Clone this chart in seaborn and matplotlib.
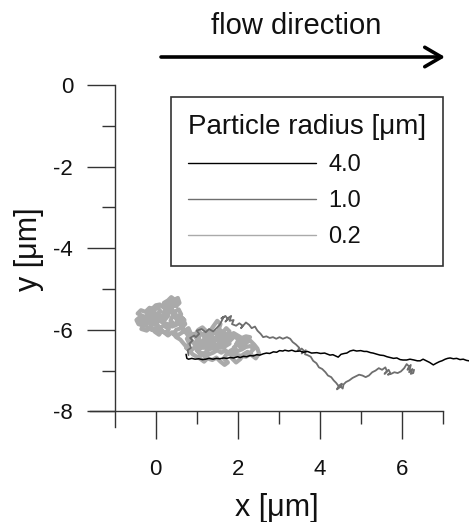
import numpy as np
import pandas as pd
import matplotlib
matplotlib.use("Agg")
import matplotlib.pyplot as plt
import seaborn as sns
from matplotlib.lines import Line2D

# --- trajectories (x, y in um) ---
x_r40 = [0.74, 0.76, 0.80, 0.88, 0.96, 1.05, 1.14, 1.22, 1.30, 1.40, 1.48, 1.56, 1.66, 1.73,
         1.82, 1.90, 2.00, 2.06, 2.14, 2.22, 2.30, 2.38, 2.46, 2.54, 2.62, 2.70, 2.78, 2.87,
         2.95, 3.02, 3.10, 3.15, 3.24, 3.32, 3.40, 3.52, 3.60, 3.70, 3.80, 3.93, 4.02, 4.12,
         4.25, 4.32, 4.45, 4.52, 4.60, 4.66, 4.74, 4.82, 4.90, 5.00, 5.08, 5.15, 5.24, 5.30,
         5.40, 5.47, 5.56, 5.64, 5.72, 5.80, 5.88, 5.96, 6.03, 6.12, 6.20, 6.30, 6.38, 6.45,
         6.52, 6.60, 6.68, 6.77, 6.84, 6.92, 6.98, 7.06, 7.12, 7.18, 7.26, 7.34, 7.42, 7.50,
         7.58, 7.64, 7.72]
y_r40 = [-6.60, -6.70, -6.72, -6.70, -6.72, -6.71, -6.73, -6.72, -6.70, -6.72, -6.70, -6.71,
         -6.69, -6.70, -6.68, -6.69, -6.66, -6.68, -6.65, -6.66, -6.63, -6.64, -6.61, -6.62,
         -6.59, -6.57, -6.58, -6.54, -6.55, -6.51, -6.52, -6.50, -6.52, -6.50, -6.53, -6.52,
         -6.55, -6.53, -6.57, -6.56, -6.58, -6.57, -6.62, -6.61, -6.67, -6.60, -6.58, -6.57,
         -6.52, -6.50, -6.52, -6.51, -6.53, -6.53, -6.56, -6.57, -6.60, -6.62, -6.63, -6.66,
         -6.68, -6.70, -6.69, -6.73, -6.74, -6.74, -6.72, -6.74, -6.76, -6.76, -6.72, -6.76,
         -6.80, -6.86, -6.82, -6.78, -6.76, -6.72, -6.70, -6.69, -6.71, -6.70, -6.73, -6.72,
         -6.75, -6.76, -6.78]

x_r10 = [0.80, 0.78, 0.86, 0.82, 0.90, 0.84, 0.94, 0.98, 1.06, 1.00,
         1.12, 1.22, 1.30, 1.40, 1.48, 1.56, 1.62, 1.66, 1.60, 1.70,
         1.76, 1.70, 1.78, 1.84, 1.80, 1.90, 1.86, 1.96, 2.04, 2.12,
         2.08, 2.20, 2.28, 2.34, 2.42, 2.48, 2.56, 2.62, 2.70, 2.78,
         2.86, 2.94, 3.02, 3.10, 3.20, 3.28, 3.34, 3.42, 3.50, 3.46,
         3.56, 3.62, 3.56, 3.66, 3.64, 3.70, 3.78, 3.84, 3.92, 3.98,
         4.06, 4.14, 4.20, 4.28, 4.34, 4.40, 4.46, 4.42, 4.50, 4.54,
         4.48, 4.56, 4.58, 4.64, 4.72, 4.80, 4.88, 4.96, 5.04, 5.12,
         5.20, 5.28, 5.36, 5.44, 5.52, 5.60, 5.64, 5.58, 5.68, 5.72,
         5.66, 5.74, 5.82, 5.90, 5.98, 6.06, 6.12, 6.18, 6.14, 6.22,
         6.18, 6.26, 6.22, 6.28, 6.30]
y_r10 = [-6.62, -6.50, -6.44, -6.34, -6.26, -6.20, -6.14, -6.18, -6.10, -6.02,
         -5.98, -6.06, -5.98, -6.04, -5.96, -5.88, -5.76, -5.68, -5.72, -5.66,
         -5.74, -5.80, -5.70, -5.66, -5.78, -5.76, -5.86, -5.90, -5.84, -5.90,
         -5.96, -5.82, -5.88, -5.96, -5.92, -6.02, -6.10, -6.18, -6.16, -6.20,
         -6.18, -6.22, -6.18, -6.22, -6.18, -6.22, -6.30, -6.36, -6.44, -6.52,
         -6.46, -6.52, -6.58, -6.50, -6.60, -6.62, -6.66, -6.76, -6.82, -6.92,
         -6.96, -7.04, -7.12, -7.16, -7.24, -7.30, -7.38, -7.46, -7.40, -7.32,
         -7.36, -7.44, -7.34, -7.28, -7.24, -7.18, -7.14, -7.10, -7.12, -7.16,
         -7.12, -7.04, -7.00, -6.94, -6.98, -6.92, -7.02, -7.08, -6.98, -7.06,
         -7.10, -7.08, -7.04, -7.06, -7.02, -6.94, -6.84, -6.90, -6.98, -6.86,
         -7.04, -6.96, -7.08, -7.06, -6.98]

x_r02 = [-0.05, -0.15, -0.28, -0.40, -0.47, -0.42, -0.30, -0.35, -0.22, -0.12, -0.02, 0.08,
         0.15, 0.25, 0.32, 0.20, 0.10, 0.02, -0.10, -0.20, -0.32, -0.44, -0.36, -0.25, -0.15,
         -0.05, 0.05, 0.12, 0.02, -0.10, 0.00, 0.12, 0.22, 0.30, 0.20, 0.26, 0.20, 0.30, 0.38,
         0.46, 0.54, 0.58, 0.50, 0.40, 0.36, 0.46, 0.56, 0.62, 0.52, 0.42, 0.36, 0.46, 0.58,
         0.66, 0.72, 0.62, 0.50, 0.44, 0.56, 0.68, 0.80, 0.86, 0.76, 0.82, 0.74, 0.84, 0.94,
         0.98, 1.06, 0.96, 1.04, 1.14, 1.24, 1.16, 1.26, 1.36, 1.32, 1.40, 1.50, 1.58, 1.54,
         1.64, 1.72, 1.80, 1.74, 1.62, 1.50, 1.44, 1.34, 1.22, 1.12, 1.02, 1.10, 1.20, 1.30,
         1.42, 1.52, 1.60, 1.70, 1.82, 1.92, 2.02, 1.96, 2.08, 2.20, 2.30, 2.40, 2.48, 2.52,
         2.44, 2.34, 2.24, 2.14, 2.06, 1.96, 1.86, 1.94, 1.84, 1.74, 1.66, 1.76, 1.68, 1.58,
         1.48, 1.38, 1.26, 1.18, 1.10, 1.00, 0.90,
         0.80, 0.70, 0.60, 0.50, 0.40, 0.30, 0.20, 0.10, 0.00, -0.10,
         -0.20, -0.30, -0.38, -0.30, -0.20, -0.10, 0.00, 0.10, 0.20, 0.30,
         0.40, 0.50, 0.60, 0.70, 0.60, 0.50, 0.40, 0.30, 0.20, 0.10,
         0.00, -0.10, -0.20, -0.10, 0.00, 0.10, 0.20, 0.30, 0.40, 0.48,
         0.42, 0.34, 0.28,
         0.90, 1.00, 1.10, 1.20, 1.30, 1.40, 1.50, 1.60, 1.70, 1.80,
         1.90, 2.00, 2.10, 2.20, 2.30, 2.20, 2.10, 2.00, 1.90, 2.00,
         2.10, 2.20, 2.30, 2.40, 2.34, 2.30, 2.20, 2.10, 2.00, 1.90,
         1.80, 1.70, 1.60, 1.50, 1.40, 1.30, 1.20, 1.10, 1.00, 1.10,
         1.20, 1.30, 1.40, 1.50, 1.60, 1.70, 1.80, 1.70, 1.60, 1.50,
         1.40, 1.30, 1.20, 1.10, 1.00, 0.92]
y_r02 = [-5.80, -5.72, -5.78, -5.70, -5.76, -5.86, -5.90, -5.98, -6.02, -5.94, -6.05, -6.12,
         -6.02, -6.08, -5.98, -5.90, -5.95, -5.85, -5.88, -5.80, -5.66, -5.60, -5.52, -5.56,
         -5.46, -5.52, -5.46, -5.55, -5.62, -5.64, -5.72, -5.68, -5.76, -5.66, -5.58, -5.46,
         -5.34, -5.28, -5.20, -5.26, -5.22, -5.34, -5.42, -5.36, -5.48, -5.56, -5.50, -5.62,
         -5.70, -5.64, -5.78, -5.86, -5.80, -5.72, -5.86, -5.96, -6.00, -6.10, -6.12, -6.04,
         -5.96, -6.10, -6.22, -6.34, -6.44, -6.52, -6.44, -6.30, -6.20, -6.12, -6.00, -5.94,
         -6.04, -6.14, -6.24, -6.16, -6.04, -5.92, -5.78, -5.86, -5.98, -6.06, -5.96, -6.04,
         -6.16, -6.22, -6.14, -6.28, -6.36, -6.32, -6.40, -6.52, -6.62, -6.56, -6.48, -6.44,
         -6.36, -6.44, -6.34, -6.26, -6.16, -6.24, -6.36, -6.42, -6.32, -6.26, -6.36, -6.46,
         -6.58, -6.70, -6.62, -6.54, -6.60, -6.72, -6.80, -6.70, -6.58, -6.50, -6.58, -6.70,
         -6.80, -6.86, -6.78, -6.68, -6.74, -6.70, -6.78, -6.72, -6.66, -6.60,
         -6.48, -6.36, -6.24, -6.18, -6.06, -6.14, -6.06, -6.02, -5.96, -6.00,
         -5.94, -5.82, -5.76, -5.70, -5.64, -5.74, -5.82, -5.78, -5.84, -5.86,
         -5.92, -5.88, -5.82, -5.76, -5.68, -5.64, -5.56, -5.52, -5.46, -5.38,
         -5.40, -5.50, -5.58, -5.60, -5.60, -5.64, -5.68, -5.60, -5.46, -5.32,
         -5.26, -5.36, -5.42,
         -6.30, -6.40, -6.30, -6.22, -6.30, -6.20, -6.26, -6.32, -6.24, -6.16,
         -6.08, -6.14, -6.20, -6.16, -6.18, -6.26, -6.30, -6.34, -6.44, -6.52,
         -6.48, -6.42, -6.40, -6.46, -6.52, -6.60, -6.66, -6.64, -6.62, -6.64,
         -6.60, -6.50, -6.56, -6.50, -6.56, -6.60, -6.66, -6.56, -6.50, -6.44,
         -6.44, -6.40, -6.34, -6.40, -6.42, -6.40, -6.34, -6.10, -6.14, -6.04,
         -6.10, -6.12, -6.16, -6.08, -6.22, -6.10]

radius_labels = ["4.0", "1.0", "0.2"]
line_colors = ["#000000", "#6e6e6e", "#aaaaaa"]
line_widths = [1.1, 1.3, 3.0]

x_ticks = [0, 2, 4, 6]
x_minor = [1, 3, 5, 7]
y_ticks = [0, -2, -4, -6, -8]
y_minor = [-1, -3, -5, -7]

sns.set_style("ticks")
plt.rcParams["font.family"] = ["Liberation Sans", "DejaVu Sans"]
plt.rcParams["axes.unicode_minus"] = False
plt.rcParams["text.color"] = "#111111"
plt.rcParams["axes.labelcolor"] = "#111111"
plt.rcParams["xtick.labelcolor"] = "#111111"
plt.rcParams["ytick.labelcolor"] = "#111111"

W, H = 469, 522
fig = plt.figure(figsize=(W / 100, H / 100), dpi=100)
ax = fig.add_axes([0.1921, 0.1806, 0.8079, 0.680])

xs_all = [x_r40, x_r10, x_r02]
ys_all = [y_r40, y_r10, y_r02]
# draw smallest particle first so the black path sits on top
for i in [2, 1, 0]:
    d = pd.DataFrame({"x": xs_all[i], "y": ys_all[i]})
    sns.lineplot(data=d, x="x", y="y", sort=False, estimator=None,
                 color=line_colors[i], linewidth=line_widths[i], ax=ax)

ax.set_xlim(-1.6, 7.64)
ax.set_ylim(-8.4, 0.3)
ax.set_xlabel("")
ax.set_ylabel("")

for s in ["top", "right"]:
    ax.spines[s].set_visible(False)
ax.spines["left"].set_position(("data", -1))
ax.spines["bottom"].set_position(("data", -8))
ax.spines["left"].set_bounds(-8.37, 0)
ax.spines["bottom"].set_bounds(-1.6, 7)
for s in ["left", "bottom"]:
    ax.spines[s].set_color("#333333")
    ax.spines[s].set_linewidth(1.0)

ax.set_xticks(x_ticks)
ax.set_xticks(x_minor, minor=True)
ax.set_yticks(y_ticks)
ax.set_yticks(y_minor, minor=True)
ax.tick_params(which="major", length=20, width=1, color="#333333", labelsize=16)
ax.tick_params(which="minor", length=9.5, width=1, color="#333333")
ax.tick_params(axis="x", which="major", pad=14)
ax.tick_params(axis="y", which="major", pad=10)

fig.text(29 / W, 1 - 249 / H, "y [μm]", rotation=90, ha="center", va="center", fontsize=22)
fig.text(277 / W, 1 - 508 / H, "x [μm]", ha="center", va="center", fontsize=22)

# flow arrow
fig.text(296 / W, 1 - 26 / H, "flow direction", ha="center", va="center", fontsize=21)
ax.annotate("", xy=(445 / W, 1 - 57 / H), xytext=(161 / W, 1 - 57 / H),
            xycoords="figure fraction", textcoords="figure fraction",
            annotation_clip=False,
            arrowprops=dict(arrowstyle="->,head_length=0.6,head_width=0.35",
                            lw=2.6, color="black", mutation_scale=20,
                            shrinkA=0, shrinkB=0))

handles = [Line2D([], [], color=c, lw=1) for c in line_colors]
leg = ax.legend(handles, radius_labels, title="Particle radius [μm]",
                loc="upper left", bbox_to_anchor=(171 / W, 1 - 97 / H),
                bbox_transform=fig.transFigure, borderaxespad=0, borderpad=0.72,
                frameon=True, fancybox=False, edgecolor="#333333", framealpha=1,
                fontsize=17, title_fontsize=20, handlelength=5.4,
                handletextpad=0.55, labelspacing=0.6, alignment="left")
leg.get_frame().set_linewidth(1.2)

fig.savefig("out.png", dpi=100)
